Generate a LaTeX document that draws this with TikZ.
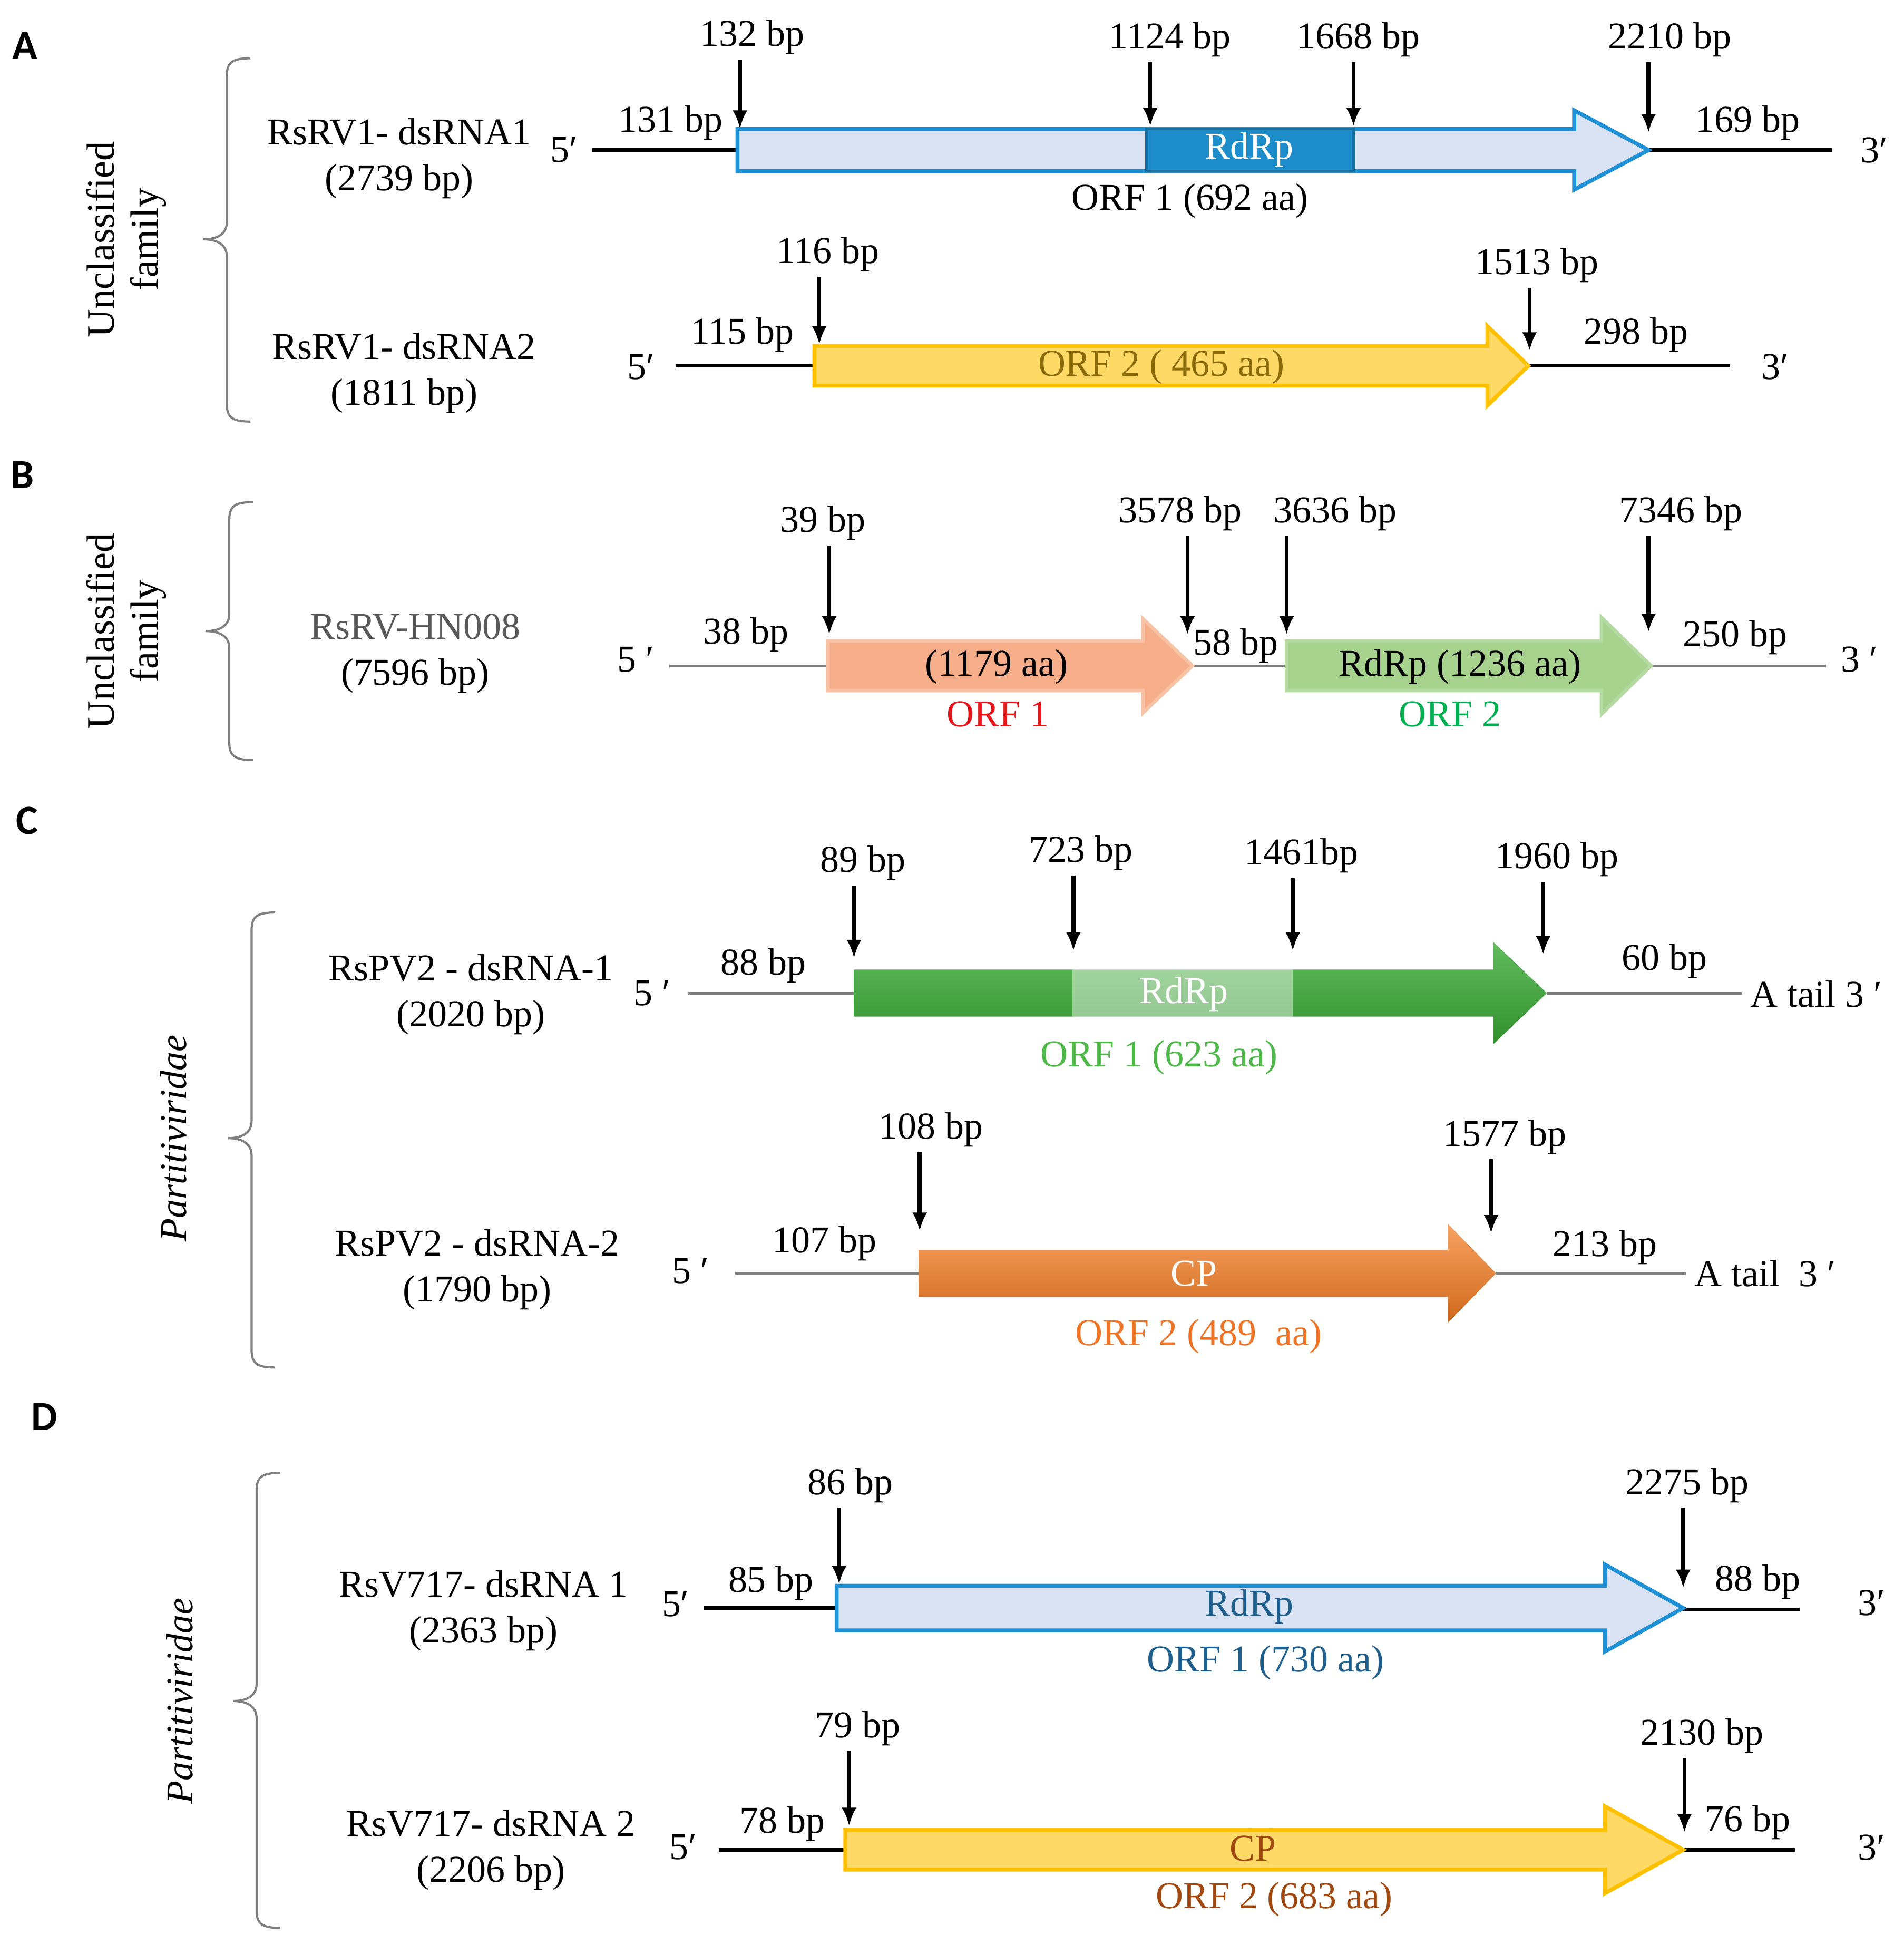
\documentclass[tikz,border=0pt]{standalone}
\usepackage{fontspec}
\setmainfont{Liberation Serif}
\newfontfamily\panelfont{Carlito}
\usetikzlibrary{arrows.meta}

\definecolor{lightblue}{HTML}{DAE3F3}
\definecolor{orfblueline}{HTML}{1E90D6}
\definecolor{rdrpblue}{HTML}{1C8CCB}
\definecolor{yellowfill}{HTML}{FFD966}
\definecolor{yellowline}{HTML}{FFC000}
\definecolor{goldtext}{HTML}{8A6A08}
\definecolor{salmon}{HTML}{F6AE8A}
\definecolor{salmonline}{HTML}{F8C3A5}
\definecolor{paleg}{HTML}{A6D28E}
\definecolor{palegline}{HTML}{B4DAA2}
\definecolor{orfred}{HTML}{E8141B}
\definecolor{orfgreen}{HTML}{00B050}
\definecolor{cgreen}{HTML}{3AAA35}
\definecolor{cgreentext}{HTML}{4DB848}
\definecolor{corange}{HTML}{F47B20}
\definecolor{corangetext}{HTML}{F07426}
\definecolor{dbluetext}{HTML}{1F5F8E}
\definecolor{dbrowntext}{HTML}{A0480F}
\definecolor{namegray}{HTML}{595959}

% стрелка ORF: стиль, начало, начало головки, острие, y, полувысота тела, полувысота головки
\newcommand{\orfarrow}[7]{%
  \draw[#1] (#2,#5-#6) -- (#3,#5-#6) -- (#3,#5-#7) -- (#4,#5)
    -- (#3,#5+#7) -- (#3,#5+#6) -- (#2,#5+#6) -- cycle;}

% фигурная скобка: x, верх, острие, низ
\newcommand{\familybrace}[4]{%
  \draw[bracegray] (#1+19,#2) .. controls (#1+5,#2) and (#1,#2+3) .. (#1,#2+14)
    -- (#1,#3-14) .. controls (#1,#3-4) and (#1-8,#3) .. (#1-19,#3)
    .. controls (#1-8,#3) and (#1,#3+4) .. (#1,#3+14)
    -- (#1,#4-14) .. controls (#1,#4-3) and (#1+5,#4) .. (#1+19,#4);}

\begin{document}
\begin{tikzpicture}[x=0.01cm, y=-0.01cm,
    every node/.style={font=\fontsize{8.7}{10.5}\selectfont, inner sep=1pt},
    panel/.style={font=\panelfont\bfseries\fontsize{9.5}{11}\selectfont},
    family/.style={rotate=90, align=center, font=\fontsize{9}{10}\selectfont},
    familyit/.style={rotate=90, font=\itshape\fontsize{8.7}{10}\selectfont},
    genome/.style={align=center},
    bparrow/.style={-{Latex[length=1.5mm,width=1.2mm]}, line width=0.9pt},
    rna/.style={line width=0.8pt},
    rnagray/.style={line width=0.6pt, gray},
    bracegray/.style={gray, line width=0.5pt},
    orfblue/.style={fill=lightblue, draw=orfblueline, line width=0.9pt},
    orfyellow/.style={fill=yellowfill, draw=yellowline, line width=0.9pt},
    orfsalmon/.style={fill=salmon, draw=salmonline, line width=0.8pt},
    orfpale/.style={fill=paleg, draw=palegline, line width=0.8pt},
    orfgreenshade/.style={draw=none, top color=cgreen!80!white, bottom color=cgreen!85!black},
    orforange/.style={draw=none, top color=corange!70!white, bottom color=corange!85!black},
    rdrpbox/.style={fill=rdrpblue, draw=rdrpblue!80!black, line width=0.6pt},
  ]
  \useasboundingbox (0,0) rectangle (1536,1568);

  % Панель A
  \node[panel] (pA) at (20,37) {A};
  \familybrace{183}{47}{193}{340}
  \node[family] (famA) at (102,193) {Unclassified\\family};

  % RsRV1 dsRNA1
  \node[genome] (A1name) at (322,128) {RsRV1- dsRNA1\\(2739 bp)};
  \node (A1five) at (455,121) {5′};
  \node (A1three) at (1512,121) {3′};
  \draw[rna] (478,121) -- (595,121) (1330,121) -- (1478,121);
  \orfarrow{orfblue}{595}{1270}{1330}{121}{17}{32}
  \draw[rdrpbox] (925,104) rectangle (1092,138);
  \node[text=white] (A1rdrp) at (1008,121) {RdRp};
  \node (A1orf) at (960,162) {ORF 1 (692 aa)};
  \foreach \n/\x/\y/\txt in {A1u5/541/99/131 bp, A1u3/1410/99/169 bp}
    \node (\n) at (\x,\y) {\txt};
  \foreach \i/\lx/\ly/\txt/\ax/\ay in {1/607/30/132 bp/597/104, 2/944/32/1124 bp/928/102,
      3/1096/32/1668 bp/1092/102, 4/1347/32/2210 bp/1330/107} {
    \node (A1m\i) at (\lx,\ly) {\txt};
    \coordinate (A1p\i) at (\ax,\ay);
    \draw[bparrow] (A1m\i.south -| A1p\i) -- (A1p\i);
  }

  % RsRV1 dsRNA2
  \node[genome] (A2name) at (326,301) {RsRV1- dsRNA2\\(1811 bp)};
  \node (A2five) at (517,296) {5′};
  \node (A2three) at (1432,296) {3′};
  \draw[rna] (545,295) -- (657,295) (1233,295) -- (1396,295);
  \orfarrow{orfyellow}{657}{1200}{1233}{295}{16}{32}
  \node[text=goldtext] (A2orf) at (937,296) {ORF 2 ( 465 aa)};
  \foreach \n/\x/\y/\txt in {A2u5/599/270/115 bp, A2u3/1320/270/298 bp}
    \node (\n) at (\x,\y) {\txt};
  \foreach \i/\lx/\ly/\txt/\ax/\ay in {1/668/205/116 bp/661/278, 2/1240/214/1513 bp/1234/283} {
    \node (A2m\i) at (\lx,\ly) {\txt};
    \coordinate (A2p\i) at (\ax,\ay);
    \draw[bparrow] (A2m\i.south -| A2p\i) -- (A2p\i);
  }

  % Панель B
  \node[panel] (pB) at (18,383) {B};
  \familybrace{185}{405}{509}{613}
  \node[family] (famB) at (102,509) {Unclassified\\family};
  \node[genome] (Bname) at (335,527) {\textcolor{namegray}{RsRV-HN008}\\(7596 bp)};
  \node (Bfive) at (513,532) {5 ′};
  \node (Bthree) at (1500,532) {3 ′};
  \draw[rnagray] (540,537) -- (668,537) (962,537) -- (1038,537) (1332,537) -- (1473,537);
  \orfarrow{orfsalmon}{668}{922}{962}{537}{20}{38}
  \orfarrow{orfpale}{1038}{1292}{1332}{537}{20}{39}
  \node (Borf1) at (804,538) {(1179 aa)};
  \node[text=orfred] (Borf1n) at (805,576) {ORF 1};
  \node (Borf2) at (1178,538) {RdRp (1236 aa)};
  \node[text=orfgreen] (Borf2n) at (1170,576) {ORF 2};
  \foreach \n/\x/\y/\txt in {Bu5/602/512/38 bp, Bmid/997/521/58 bp, Bu3/1400/514/250 bp}
    \node (\n) at (\x,\y) {\txt};
  \foreach \i/\lx/\ly/\txt/\ax/\ay in {1/664/422/39 bp/669/512, 2/952/414/3578 bp/958/512,
      3/1077/414/3636 bp/1038/512, 4/1356/414/7346 bp/1330/510} {
    \node (Bm\i) at (\lx,\ly) {\txt};
    \coordinate (Bp\i) at (\ax,\ay);
    \draw[bparrow] (Bm\i.south -| Bp\i) -- (Bp\i);
  }

  % Панель C
  \node[panel] (pC) at (22,662) {C};
  \familybrace{203}{736}{918}{1103}
  \node[familyit] (famC) at (140,918) {Partitiviridae};

  % RsPV2 dsRNA-1
  \node[genome] (C1name) at (380,802) {RsPV2 - dsRNA-1\\(2020 bp)};
  \node (C1five) at (526,801) {5 ′};
  \node[anchor=west] (C1three) at (1408,802) {A tail 3 ′};
  \draw[rnagray] (555,801) -- (689,801) (1248,801) -- (1405,801);
  \orfarrow{orfgreenshade}{689}{1205}{1248}{801}{19}{41}
  \fill[white, fill opacity=0.45] (865,782) rectangle (1043,820);
  \node[text=white] (C1rdrp) at (955,802) {RdRp};
  \node[text=cgreentext] (C1orf) at (935,853) {ORF 1 (623 aa)};
  \foreach \n/\x/\y/\txt in {C1u5/616/779/88 bp, C1u3/1343/775/60 bp}
    \node (\n) at (\x,\y) {\txt};
  \foreach \i/\lx/\ly/\txt/\ax/\ay in {1/696/696/89 bp/689/773, 2/872/688/723 bp/866/767,
      3/1050/690/1461bp/1043/767, 4/1256/693/1960 bp/1245/770} {
    \node (C1m\i) at (\lx,\ly) {\txt};
    \coordinate (C1p\i) at (\ax,\ay);
    \draw[bparrow] (C1m\i.south -| C1p\i) -- (C1p\i);
  }

  % RsPV2 dsRNA-2
  \node[genome] (C2name) at (385,1024) {RsPV2 - dsRNA-2\\(1790 bp)};
  \node (C2five) at (557,1025) {5 ′};
  \node[anchor=west] (C2three) at (1363,1027) {A tail~ 3 ′};
  \draw[rnagray] (593,1027) -- (741,1027) (1207,1027) -- (1360,1027);
  \orfarrow{orforange}{741}{1168}{1207}{1027}{19}{40}
  \node[text=white] (C2cp) at (963,1027) {CP};
  \node[text=corangetext] (C2orf) at (967,1078) {ORF 2 (489~ aa)};
  \foreach \n/\x/\y/\txt in {C2u5/665/1003/107 bp, C2u3/1295/1006/213 bp}
    \node (\n) at (\x,\y) {\txt};
  \foreach \i/\lx/\ly/\txt/\ax/\ay in {1/751/911/108 bp/742/993, 2/1214/917/1577 bp/1203/995} {
    \node (C2m\i) at (\lx,\ly) {\txt};
    \coordinate (C2p\i) at (\ax,\ay);
    \draw[bparrow] (C2m\i.south -| C2p\i) -- (C2p\i);
  }

  % Панель D
  \node[panel] (pD) at (36,1143) {D};
  \familybrace{207}{1188}{1372}{1555}
  \node[familyit] (famD) at (145,1372) {Partitiviridae};

  % RsV717 dsRNA 1
  \node[genome] (D1name) at (390,1299) {RsV717- dsRNA 1\\(2363 bp)};
  \node (D1five) at (545,1294) {5′};
  \node (D1three) at (1510,1293) {3′};
  \draw[rna] (568,1297) -- (675,1297) (1358,1298) -- (1452,1298);
  \orfarrow{orfblue}{675}{1295}{1358}{1297}{18}{35}
  \node[text=dbluetext] (D1rdrp) at (1008,1296) {RdRp};
  \node[text=dbluetext] (D1orf) at (1021,1341) {ORF 1 (730 aa)};
  \foreach \n/\x/\y/\txt in {D1u5/622/1277/85 bp, D1u3/1418/1276/88 bp}
    \node (\n) at (\x,\y) {\txt};
  \foreach \i/\lx/\ly/\txt/\ax/\ay in {1/686/1198/86 bp/677/1278, 2/1361/1198/2275 bp/1358/1281} {
    \node (D1m\i) at (\lx,\ly) {\txt};
    \coordinate (D1p\i) at (\ax,\ay);
    \draw[bparrow] (D1m\i.south -| D1p\i) -- (D1p\i);
  }

  % RsV717 dsRNA 2
  \node[genome] (D2name) at (396,1492) {RsV717- dsRNA 2\\(2206 bp)};
  \node (D2five) at (551,1490) {5′};
  \node (D2three) at (1510,1490) {3′};
  \draw[rna] (580,1492) -- (682,1492) (1358,1492) -- (1448,1492);
  \orfarrow{orfyellow}{682}{1295}{1358}{1492}{16}{35}
  \node[text=dbrowntext] (D2cp) at (1011,1491) {CP};
  \node[text=dbrowntext] (D2orf) at (1028,1532) {ORF 2 (683 aa)};
  \foreach \n/\x/\y/\txt in {D2u5/631/1471/78 bp, D2u3/1410/1470/76 bp}
    \node (\n) at (\x,\y) {\txt};
  \foreach \i/\lx/\ly/\txt/\ax/\ay in {1/692/1394/79 bp/685/1473, 2/1373/1400/2130 bp/1359/1478} {
    \node (D2m\i) at (\lx,\ly) {\txt};
    \coordinate (D2p\i) at (\ax,\ay);
    \draw[bparrow] (D2m\i.south -| D2p\i) -- (D2p\i);
  }
\end{tikzpicture}
\end{document}
